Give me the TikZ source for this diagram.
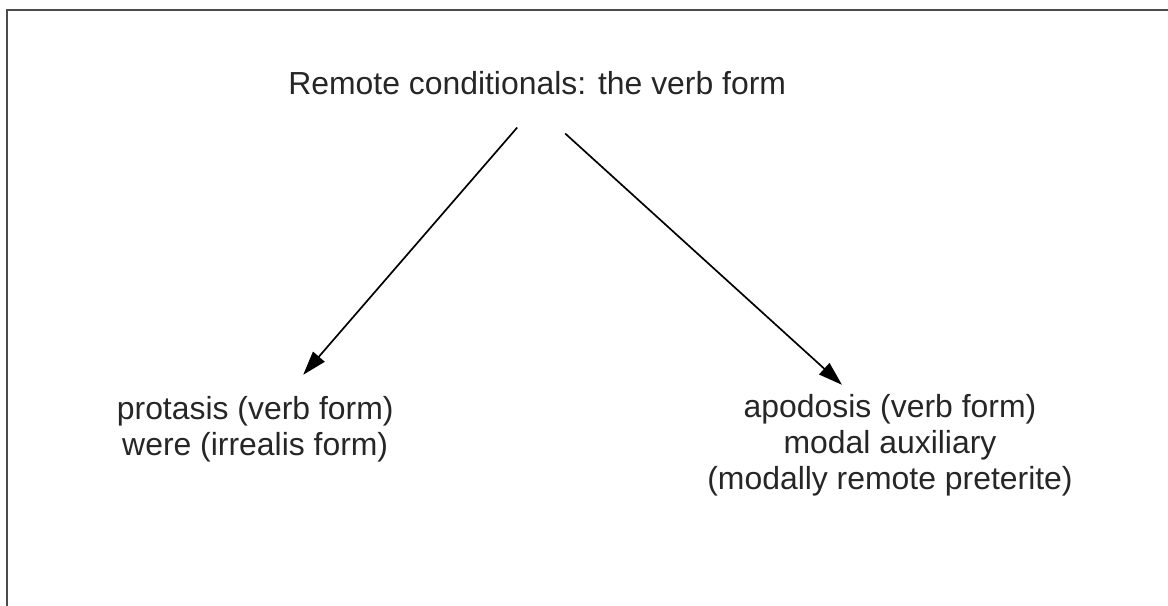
\documentclass[tikz,border=0pt]{standalone}
\usepackage{fontspec}
\setmainfont{Liberation Sans}
\usetikzlibrary{arrows.meta}
\begin{document}
\begin{tikzpicture}[font=\fontsize{22.7}{25.6}\selectfont,
  every node/.style={inner sep=0pt,outer sep=0pt,text=black!85},
  >={Triangle[length=0.6cm,width=0.38cm]}]
\useasboundingbox (0,0) rectangle (29.2,-15.15);
\draw[line width=1.4pt,black!70] (29.2,-0.25) -| (0.175,-15.15);

\node(T)[anchor=base] at (13.43,-2.35) {Remote conditionals: the verb form};
\node(P)[anchor=north,align=center] at (6.38,-9.92) {protasis (verb form)\\were (irrealis form)};
\node(A)[anchor=north,align=center] at (22.25,-9.87) {apodosis (verb form)\\modal auxiliary\\(modally remote preterite)};

\draw[->,line width=1.2pt] ([shift={(-0.5,-0.83)}]T.south) -- ([shift={(1.2,0.55)}]P.north);
\draw[->,line width=1.2pt] ([shift={(0.7,-0.98)}]T.south) -- ([shift={(-1.2,0.25)}]A.north);

\end{tikzpicture}
\end{document}
